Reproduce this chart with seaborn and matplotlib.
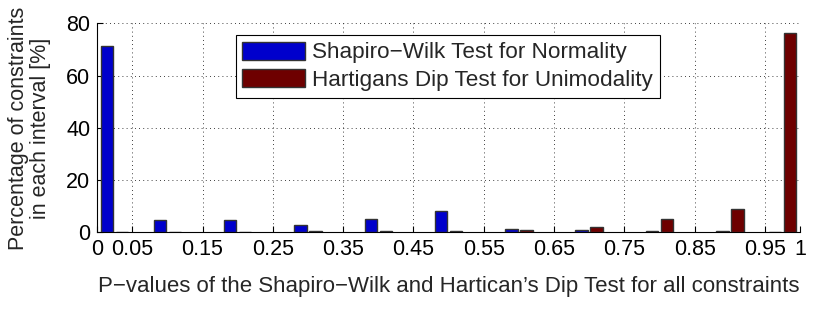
import matplotlib
matplotlib.use("Agg")
import matplotlib.pyplot as plt
import seaborn as sns
import pandas as pd

# bin positions (group centres) and percentages per test
bins = [0.025, 0.1, 0.2, 0.3, 0.4, 0.5, 0.6, 0.7, 0.8, 0.9, 0.975]
shapiro = [71.5, 4.6, 4.7, 2.9, 5.0, 8.2, 1.4, 0.9, 0.6, 0.6, 0.1]
hartigan = [0.0, 0.0, 0.0, 0.4, 0.4, 0.7, 0.9, 2.1, 5.3, 9.0, 76.5]
series = ["Shapiro\u2212Wilk Test for Normality", "Hartigans Dip Test for Unimodality"]
xticks = [0, 0.05, 0.15, 0.25, 0.35, 0.45, 0.55, 0.65, 0.75, 0.85, 0.95, 1]
xticklabels = ["0", "0.05", "0.15", "0.25", "0.35", "0.45", "0.55", "0.65", "0.75", "0.85", "0.95", "1"]
yticks = [0, 20, 40, 60, 80]

df = pd.DataFrame({
    "p": bins * 2,
    "pct": shapiro + hartigan,
    "test": [series[0]] * len(bins) + [series[1]] * len(bins),
})

sns.set_style("ticks")
plt.rcParams["font.family"] = ["Liberation Sans", "DejaVu Sans"]
fs = 15.5

fig = plt.figure(figsize=(8.3, 3.12), dpi=100)
ax = fig.add_axes([0.117, 0.255, 0.847, 0.67])

sns.barplot(data=df, x="p", y="pct", hue="test", hue_order=series,
            palette=["#0000CC", "#6E0000"], saturation=1, native_scale=True,
            width=0.57, gap=0.17, edgecolor="#333333", linewidth=1,
            errorbar=None, ax=ax, zorder=3)

ax.set_xlim(0, 1)
ax.set_ylim(0, 80)
ax.set_xticks(xticks)
ax.set_xticklabels(xticklabels)
ax.set_yticks(yticks)
ax.tick_params(direction="in", length=4, width=0.8, labelsize=fs, pad=5, colors="black")
ax.grid(True, linestyle=(0, (1, 4)), color="black", linewidth=0.6, zorder=0)
ax.set_axisbelow(True)
sns.despine(ax=ax)
for s in ["left", "bottom"]:
    ax.spines[s].set_color("black")
    ax.spines[s].set_linewidth(0.8)

ax.set_xlabel("P\u2212values of the Shapiro\u2212Wilk and Hartican\u2019s Dip Test for all constraints",
              fontsize=16, labelpad=11)
ax.set_ylabel("Percentage of constraints\nin each interval [%]", fontsize=fs, labelpad=11,
              linespacing=1.05)

leg = ax.legend(loc="upper left", bbox_to_anchor=(0.197, 0.945), fontsize=16.2,
                frameon=True, fancybox=False, framealpha=1, edgecolor="black",
                handlelength=2.8, handleheight=0.85, borderpad=0.3, labelspacing=0.25,
                handletextpad=0.3, borderaxespad=0)
leg.get_frame().set_linewidth(0.8)

fig.savefig("out.png", dpi=100)
